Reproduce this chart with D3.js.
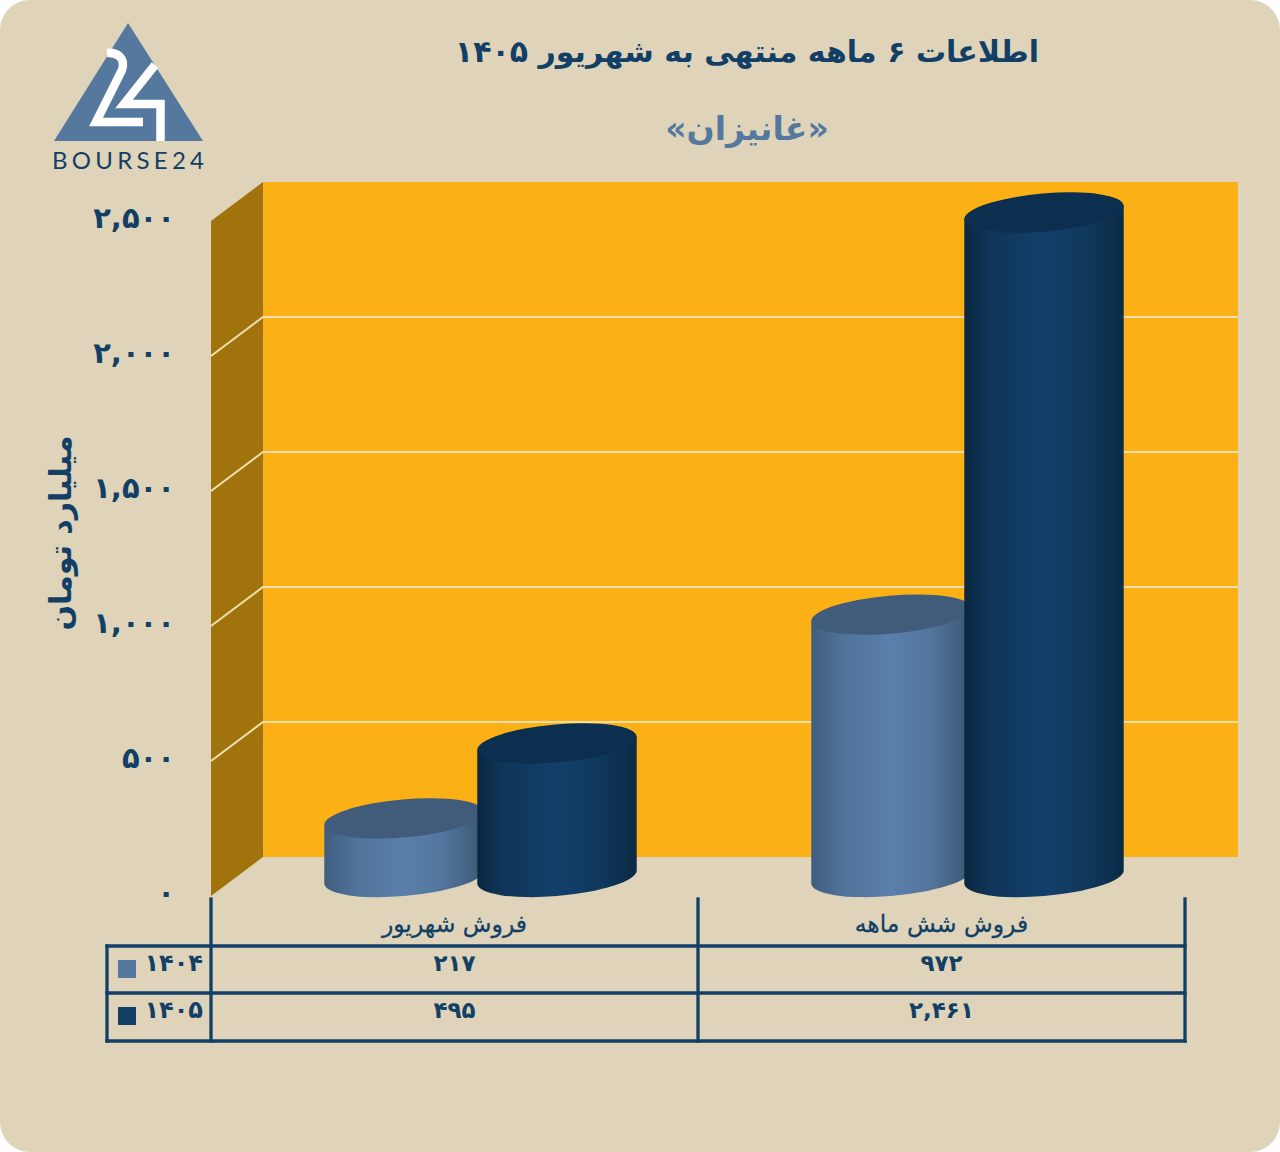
<!DOCTYPE html>
<html>
<head>
<meta charset="utf-8">
<script src="https://cdn.jsdelivr.net/npm/d3@7"></script>
<style>
  html, body { margin: 0; padding: 0; background: #fff; }
  text { font-family: "DejaVu Sans", sans-serif; fill: #123f66; }
</style>
</head>
<body>
<svg id="chart" width="1280" height="1152"></svg>
<script>
const categories = ['فروش شهریور', 'فروش شش ماهه'];
const years = ['۱۴۰۴', '۱۴۰۵'];
const values1404 = [217, 972];
const values1405 = [495, 2461];
const ticks = [0, 500, 1000, 1500, 2000, 2500];
const title = 'اطلاعات ۶ ماهه منتهی به شهریور ۱۴۰۵';
const subtitle = '«غانیزان»';
const yAxisTitle = 'میلیارد تومان';

const series = [
  { name: years[0], values: values1404, side: 'lightSide', top: '#415b7b', swatch: '#55789f' },
  { name: years[1], values: values1405, side: 'darkSide', top: '#0c2f50', swatch: '#123f66' },
];

const ink = '#123f66';
const depthX = 52;
const depthY = 40;
const rx = 80;
const ry = 19;
const tilt = -5;

const toPersian = (s) => String(s).replace(/\d/g, (d) => '۰۱۲۳۴۵۶۷۸۹'[d]);
const fmt = (v) => toPersian(d3.format(',')(v));

const x = d3.scaleBand().domain(categories).range([211, 1185]);
const y = d3.scaleLinear().domain([0, 2500]).range([896, 221]);

const svg = d3.select('#chart');

// gradients
const defs = svg.append('defs');
function sideGradient(id, stops) {
  defs.append('linearGradient')
    .attr('id', id)
    .selectAll('stop')
    .data(stops)
    .join('stop')
    .attr('offset', (d) => d[0])
    .attr('stop-color', (d) => d[1]);
}
sideGradient('lightSide', [[0, '#3f5d80'], [0.2, '#507399'], [0.5, '#5a7fab'], [0.75, '#52769c'], [1, '#3c5672']]);
sideGradient('darkSide', [[0, '#0a2740'], [0.15, '#0f3558'], [0.5, '#123f6b'], [0.8, '#0f3759'], [1, '#0a2a45']]);

// card
svg.append('rect')
  .attr('width', 1280)
  .attr('height', 1152)
  .attr('rx', 30)
  .attr('fill', '#dfd4b9');

// walls
const left = x.range()[0];
const wallX = left + depthX;
svg.append('rect')
  .attr('x', wallX)
  .attr('y', y(2500) - depthY + 1)
  .attr('width', 1238 - wallX)
  .attr('height', y(0) - y(2500))
  .attr('fill', '#fbb116');
svg.append('path')
  .attr('d', `M${left},${y(0)}V${y(2500)}L${wallX},${y(2500) - depthY + 1}V${y(0) - depthY + 1}Z`)
  .attr('fill', '#a1730c');

// gridlines
svg.append('g')
  .selectAll('path')
  .data(ticks.filter((t) => t > 0 && t < 2500))
  .join('path')
  .attr('d', (t) => `M${left},${y(t)}L${wallX},${y(t) - depthY + 1}H1238`)
  .attr('fill', 'none')
  .attr('stroke', '#f3dfae')
  .attr('stroke-width', 2);

// y axis
const axis = svg.append('g')
  .attr('transform', 'translate(175,-3)')
  .call(d3.axisLeft(y).tickValues(ticks).tickSize(0).tickPadding(0).tickFormat(fmt));
axis.select('.domain').remove();
axis.selectAll('text')
  .attr('font-size', 29)
  .attr('font-weight', 'bold')
  .style('font-family', '"DejaVu Sans", sans-serif')
  .attr('fill', ink);

svg.append('text')
  .attr('transform', 'translate(60,533) rotate(-90)')
  .attr('text-anchor', 'middle')
  .attr('dominant-baseline', 'central')
  .attr('font-size', 30)
  .attr('font-weight', 'bold')
  .style('direction', 'rtl')
  .text(yAxisTitle);

// cylinders, the light one of each group is overlapped by the dark one
const barOffset = d3.scaleOrdinal().domain(years).range([-76.5, 76.5]);
const baseShift = 19;
const theta = tilt * Math.PI / 180;
// point where the tilted ellipse has a vertical tangent, so the sides join it cleanly
const tangentT = Math.atan2(-ry * Math.sin(theta), rx * Math.cos(theta));
const dx = rx * Math.cos(tangentT) * Math.cos(theta) - ry * Math.sin(tangentT) * Math.sin(theta);
const dy = rx * Math.cos(tangentT) * Math.sin(theta) + ry * Math.sin(tangentT) * Math.cos(theta);

series.forEach((s) => {
  const g = svg.append('g');
  s.values.forEach((v, i) => {
    const cx = x(categories[i]) + x.bandwidth() / 2 + depthX / 2 + barOffset(s.name);
    const baseY = y(0) - baseShift;
    const topY = y(v) - baseShift;
    g.append('path')
      .attr('d', `M${cx - dx},${topY - dy}L${cx - dx},${baseY - dy}`
        + `A${rx},${ry} ${tilt} 0 0 ${cx + dx},${baseY + dy}L${cx + dx},${topY + dy}Z`)
      .attr('fill', `url(#${s.side})`);
    g.append('ellipse')
      .attr('cx', cx)
      .attr('cy', topY)
      .attr('rx', rx)
      .attr('ry', ry)
      .attr('transform', `rotate(${tilt} ${cx} ${topY})`)
      .attr('fill', s.top);
  });
});

// table
const rowLines = [946, 993, 1041];
const table = svg.append('g')
  .attr('stroke', ink)
  .attr('stroke-width', 3.3)
  .attr('stroke-linecap', 'square')
  .attr('fill', 'none');
rowLines.forEach((ly) => {
  table.append('line').attr('x1', 107).attr('x2', 1185).attr('y1', ly).attr('y2', ly);
});
table.append('line').attr('x1', 107).attr('x2', 107).attr('y1', rowLines[0]).attr('y2', rowLines[2]);
[...categories.map((c) => x(c)), x.range()[1]].forEach((lx) => {
  table.append('line').attr('x1', lx).attr('x2', lx).attr('y1', 899).attr('y2', 1041);
});

categories.forEach((c) => {
  svg.append('text')
    .attr('x', x(c) + x.bandwidth() / 2)
    .attr('y', 924)
    .attr('text-anchor', 'middle')
    .attr('dominant-baseline', 'central')
    .attr('font-size', 23.5)
    .attr('stroke', ink)
    .attr('stroke-width', 0.3)
    .style('direction', 'rtl')
    .text(c);
});

series.forEach((s, r) => {
  const rowTop = rowLines[r];
  svg.append('rect')
    .attr('x', 118)
    .attr('y', rowTop + 14)
    .attr('width', 18)
    .attr('height', 18)
    .attr('fill', s.swatch);
  svg.append('text')
    .attr('x', 203)
    .attr('y', rowTop + 17)
    .attr('text-anchor', 'end')
    .attr('dominant-baseline', 'central')
    .attr('font-size', 24)
    .attr('font-weight', 'bold')
    .text(s.name);
  s.values.forEach((v, i) => {
    svg.append('text')
      .attr('x', x(categories[i]) + x.bandwidth() / 2)
      .attr('y', rowTop + 17)
      .attr('text-anchor', 'middle')
      .attr('dominant-baseline', 'central')
      .attr('font-size', 23)
      .attr('font-weight', 'bold')
      .text(fmt(v));
  });
});

// titles
svg.append('text')
  .attr('x', 747)
  .attr('y', 51)
  .attr('text-anchor', 'middle')
  .attr('dominant-baseline', 'central')
  .attr('font-size', 30)
  .attr('font-weight', 'bold')
  .style('direction', 'rtl')
  .text(title);
svg.append('text')
  .attr('x', 747)
  .attr('y', 128)
  .attr('text-anchor', 'middle')
  .attr('dominant-baseline', 'central')
  .attr('font-size', 33)
  .attr('font-weight', 'bold')
  .style('direction', 'rtl')
  .style('fill', '#55789f')
  .text(subtitle);

// logo
const logo = svg.append('g');
logo.append('path').attr('d', 'M128,23L203,141H54Z').attr('fill', '#55789f');
logo.append('path')
  .attr('d', 'M107,53C117,52 126,58 122,70L96,122H143')
  .attr('fill', 'none')
  .attr('stroke', '#fff')
  .attr('stroke-width', 8.5);
logo.append('path')
  .attr('d', 'M155,65L124,104H160.5V141')
  .attr('fill', 'none')
  .attr('stroke', '#fff')
  .attr('stroke-width', 8.5);
logo.append('text')
  .attr('x', 128)
  .attr('y', 169)
  .attr('text-anchor', 'middle')
  .attr('font-size', 24)
  .attr('textLength', 152)
  .style('font-family', 'Lato, sans-serif')
  .text('BOURSE24');
</script>
</body>
</html>
